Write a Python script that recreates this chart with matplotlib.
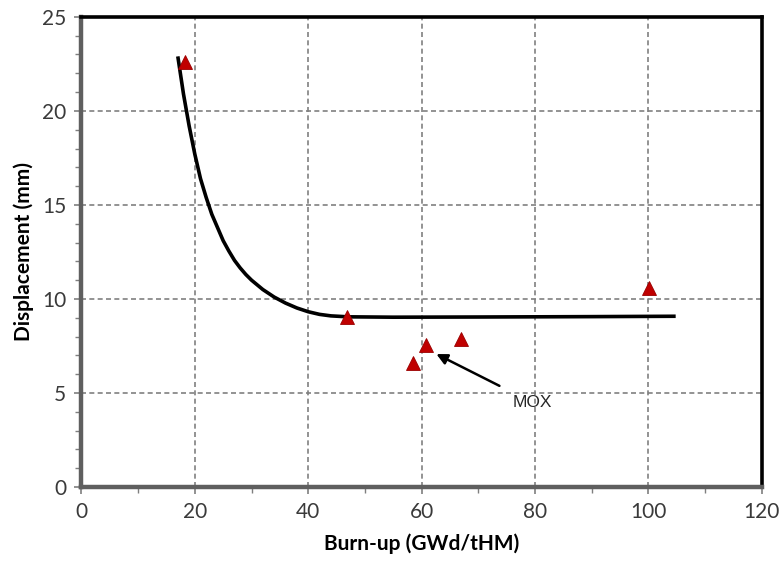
import matplotlib.pyplot as plt
from matplotlib.ticker import MultipleLocator

# measured points (burn-up, displacement)
burnup = [18.2, 46.9, 58.4, 60.7, 67.0, 100.1]
displacement = [22.6, 9.05, 6.6, 7.55, 7.87, 10.6]

# trend curve
fit_x = [17.0, 18.0, 19.0, 20.0, 21.0, 22.0, 23.0, 24.0, 25.0, 26.0, 27.0,
         28.0, 29.0, 30.0, 32.0, 34.0, 36.0, 38.0, 40.0, 42.0, 44.0, 47.0,
         55.0, 70.0, 90.0, 104.8]
fit_y = [22.9, 20.9, 19.2, 17.7, 16.4, 15.4, 14.5, 13.8, 13.1, 12.55, 12.05,
         11.65, 11.3, 11.0, 10.5, 10.1, 9.78, 9.52, 9.32, 9.18, 9.1, 9.05,
         9.03, 9.04, 9.06, 9.08]

fig = plt.figure(figsize=(7.79, 5.63), dpi=100)
ax = fig.add_axes([0.1045, 0.135, 0.8735, 0.835])

ax.plot(fit_x, fit_y, color='black', lw=2.6, zorder=3, solid_capstyle='butt',
        solid_joinstyle='round')
ax.plot(burnup, displacement, '^', color='#C00000', markeredgecolor='#9a0000',
        markeredgewidth=0.6, markersize=10, zorder=4, clip_on=False)

ax.annotate('MOX', xy=(62.6, 7.07), xytext=(79.5, 4.5), ha='center', va='center',
            fontsize=12.5, family='Liberation Sans', color='#262626',
            arrowprops=dict(arrowstyle='-|>', color='black', lw=1.8,
                            mutation_scale=16, shrinkA=10, shrinkB=0))

ax.set_xlim(0, 120)
ax.set_ylim(0, 25)
ax.xaxis.set_major_locator(MultipleLocator(20))
ax.xaxis.set_minor_locator(MultipleLocator(10))
ax.yaxis.set_major_locator(MultipleLocator(5))
ax.yaxis.set_minor_locator(MultipleLocator(1))

ax.grid(True, which='major', color='#808080', ls=(0, (3, 2)), lw=1.2, zorder=1)

for side in ['left', 'bottom']:
    ax.spines[side].set_color('#5f5f5f')
    ax.spines[side].set_linewidth(3.2)
for side in ['top', 'right']:
    ax.spines[side].set_color('black')
    ax.spines[side].set_linewidth(2.6)

ax.tick_params(which='major', direction='out', length=5, width=1.2, color='#7f7f7f',
               labelsize=15, labelcolor='#3a3a3a', pad=6)
ax.tick_params(which='minor', direction='out', length=4, width=1.0, color='#7f7f7f')
for lab in ax.get_xticklabels() + ax.get_yticklabels():
    lab.set_family('Lato')

ax.set_xlabel('Burn-up (GWd/tHM)', fontsize=15, fontweight='bold',
              family='Lato', labelpad=8)
ax.set_ylabel('Displacement (mm)', fontsize=15, fontweight='bold',
              family='Lato', labelpad=6)

fig.savefig('out.png', dpi=100)
